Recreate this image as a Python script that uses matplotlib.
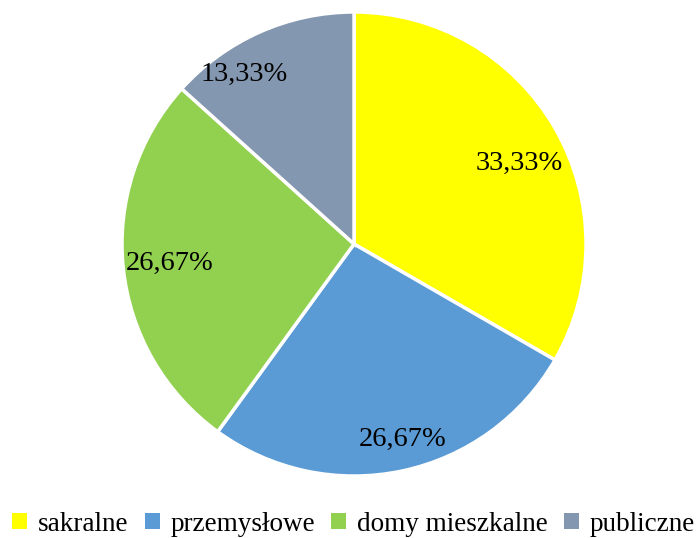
import matplotlib
matplotlib.use("Agg")
import matplotlib.pyplot as plt
from matplotlib.patches import Patch
import numpy as np

# Udział obiektów wg funkcji
categories = ["sakralne", "przemysłowe", "domy mieszkalne", "publiczne"]
shares = [33.33, 26.67, 26.67, 13.33]
labels = ["33,33%", "26,67%", "26,67%", "13,33%"]
colors = ["#FFFF00", "#5B9BD5", "#92D050", "#8497B0"]

# label placement (radial fraction, angle shift in degrees) like Excel does it
label_dist = [0.79, 0.87, 0.80, 0.87]
label_shift = [-4, 2, 0, 9]

plt.rcParams["font.family"] = ["Liberation Serif", "DejaVu Serif"]

fig = plt.figure(figsize=(6.96, 5.38), dpi=100, facecolor="white")
ax = fig.add_axes([0.1753, 0.1152, 0.6667, 0.8625])

wedges, _ = ax.pie(
    shares,
    colors=colors,
    startangle=90,
    counterclock=False,
    radius=1.0,
    wedgeprops=dict(edgecolor="white", linewidth=2.5),
)
for w, lab, d, s in zip(wedges, labels, label_dist, label_shift):
    ang = np.deg2rad((w.theta1 + w.theta2) / 2 + s)
    ax.text(d * np.cos(ang), d * np.sin(ang), lab,
            ha="center", va="center", fontsize=20.5, color="black")

ax.set_xlim(-1.0, 1.0)
ax.set_ylim(-1.0, 1.0)
ax.set_aspect("equal")
ax.axis("off")

handles = [Patch(facecolor=c, edgecolor="none") for c in colors]
fig.legend(
    handles,
    categories,
    loc="center",
    bbox_to_anchor=(0.508, 0.026),
    ncol=4,
    frameon=False,
    fontsize=19.5,
    handlelength=0.55,
    handleheight=0.55,
    handletextpad=0.4,
    columnspacing=0.6,
    borderaxespad=0,
    borderpad=0,
)

fig.savefig("out.png", dpi=100, facecolor="white")
